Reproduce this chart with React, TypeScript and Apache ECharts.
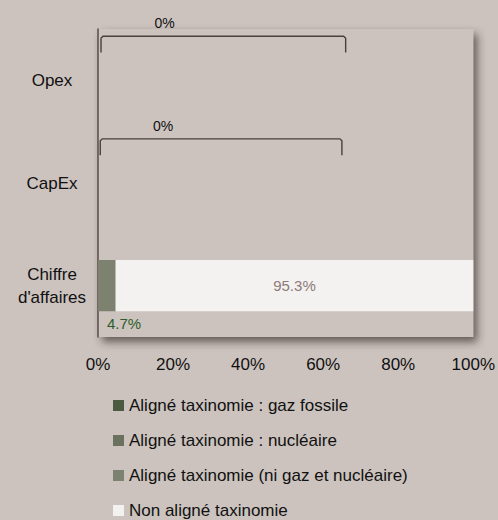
import React, { useEffect, useRef } from "react";
import * as echarts from "echarts";

const categories = ["Opex", "CapEx", "Chiffre\nd'affaires"];
const seriesNames = [
  "Aligné taxinomie : gaz fossile",
  "Aligné taxinomie : nucléaire",
  "Aligné taxinomie (ni gaz et nucléaire)",
  "Non aligné taxinomie",
];
const gazFossile = [0, 0, 0];
const nucleaire = [0, 0, 0];
const niGazNucleaire = [0, 0, 4.7];
const nonAligne = [0, 0, 95.3];
// bracket annotations for categories with no reported values: [categoryIndex, start, end, label]
const brackets: [number, number, number, string][] = [
  [0, 0.8, 66, "0%"],
  [1, 0.6, 65, "0%"],
];
const xTicks = [0, 20, 40, 60, 80, 100];

const colors = ["#4b5a40", "#6b715f", "#7d8170", "#f4f2f0"];
const BG = "#ccc3be";

export default function App() {
  const ref = useRef<HTMLDivElement>(null);
  useEffect(() => {
    document.body.style.margin = "0";
    if (!ref.current) return;
    const chart = echarts.init(ref.current, undefined, { renderer: "svg" });
    const font = "Liberation Sans, Arial, sans-serif";
    chart.setOption({
      animation: false,
      backgroundColor: BG,
      textStyle: { fontFamily: font },
      grid: {
        left: 98,
        right: 21,
        top: 29,
        bottom: 183,
        show: true,
        backgroundColor: BG,
        borderWidth: 0,
        shadowColor: "rgba(55,45,43,0.7)",
        shadowBlur: 8,
        shadowOffsetX: 4,
        shadowOffsetY: 5,
      },
      legend: {
        orient: "vertical",
        left: 113,
        top: 397,
        height: 135,
        padding: 0,
        itemWidth: 11,
        itemHeight: 11,
        itemGap: 18,
        icon: "rect",
        data: seriesNames,
        textStyle: { fontSize: 17, lineHeight: 17, color: "#111", fontFamily: font },
        selectedMode: false,
      },
      xAxis: {
        type: "value",
        min: xTicks[0],
        max: xTicks[xTicks.length - 1],
        interval: 20,
        axisLine: { show: false },
        axisTick: { show: false },
        splitLine: { show: false },
        axisLabel: {
          formatter: "{value}%",
          fontSize: 17,
          color: "#111",
          margin: 19,
          fontFamily: font,
        },
      },
      yAxis: {
        type: "category",
        data: categories,
        inverse: true,
        axisLine: { show: true, lineStyle: { color: "#574c49", width: 1.5 } },
        axisTick: { show: false },
        axisLabel: {
          fontSize: 17,
          color: "#111",
          align: "center",
          margin: 46,
          lineHeight: 23,
          fontFamily: font,
        },
      },
      series: [
        {
          name: seriesNames[0],
          type: "bar",
          stack: "total",
          barWidth: "50%",
          itemStyle: { color: colors[0] },
          data: gazFossile,
        },
        {
          name: seriesNames[1],
          type: "bar",
          stack: "total",
          barWidth: "50%",
          itemStyle: { color: colors[1] },
          data: nucleaire,
        },
        {
          name: seriesNames[2],
          type: "bar",
          stack: "total",
          barWidth: "50%",
          itemStyle: { color: colors[2] },
          data: niGazNucleaire,
          label: {
            show: true,
            position: [9, "123%"],
            align: "left",
            verticalAlign: "middle",
            fontSize: 15,
            color: "#2d5e2a",
            fontFamily: font,
            formatter: (p: any) => (p.value > 0 ? p.value + "%" : ""),
          },
        },
        {
          name: seriesNames[3],
          type: "bar",
          stack: "total",
          barWidth: "50%",
          itemStyle: { color: colors[3] },
          data: nonAligne,
          label: {
            show: true,
            position: "inside",
            fontSize: 15,
            color: "#8c7b78",
            fontFamily: font,
            formatter: (p: any) => (p.value > 0 ? p.value + "%" : ""),
          },
        },
        {
          type: "custom",
          name: "brackets",
          encode: { x: [1, 2], y: 0 },
          data: brackets,
          renderItem: (params: any, api: any) => {
            const cat = api.value(0);
            const s = api.coord([api.value(1), cat]);
            const e = api.coord([api.value(2), cat]);
            const band = api.size([0, 1])[1];
            const yTop = s[1] - band * 0.43;
            const yBot = s[1] - band * 0.27;
            const lx = s[0] + (e[0] - s[0]) * 0.26;
            return {
              type: "group",
              children: [
                {
                  type: "polyline",
                  shape: {
                    points: [
                      [s[0], yBot],
                      [s[0], yTop + 2],
                      [s[0] + 2, yTop],
                      [e[0] - 2, yTop],
                      [e[0], yTop + 2],
                      [e[0], yBot],
                    ],
                  },
                  style: { stroke: "#4a3f3c", lineWidth: 1.4, fill: null },
                },
                {
                  type: "text",
                  style: {
                    text: api.value(3),
                    x: lx,
                    y: s[1] - band * 0.555,
                    align: "center",
                    verticalAlign: "middle",
                    fontSize: 14,
                    fill: "#111",
                    fontFamily: font,
                  },
                },
              ],
            };
          },
        },
      ],
    });
    return () => chart.dispose();
  }, []);
  return <div ref={ref} style={{ width: 498, height: 520 }} />;
}
